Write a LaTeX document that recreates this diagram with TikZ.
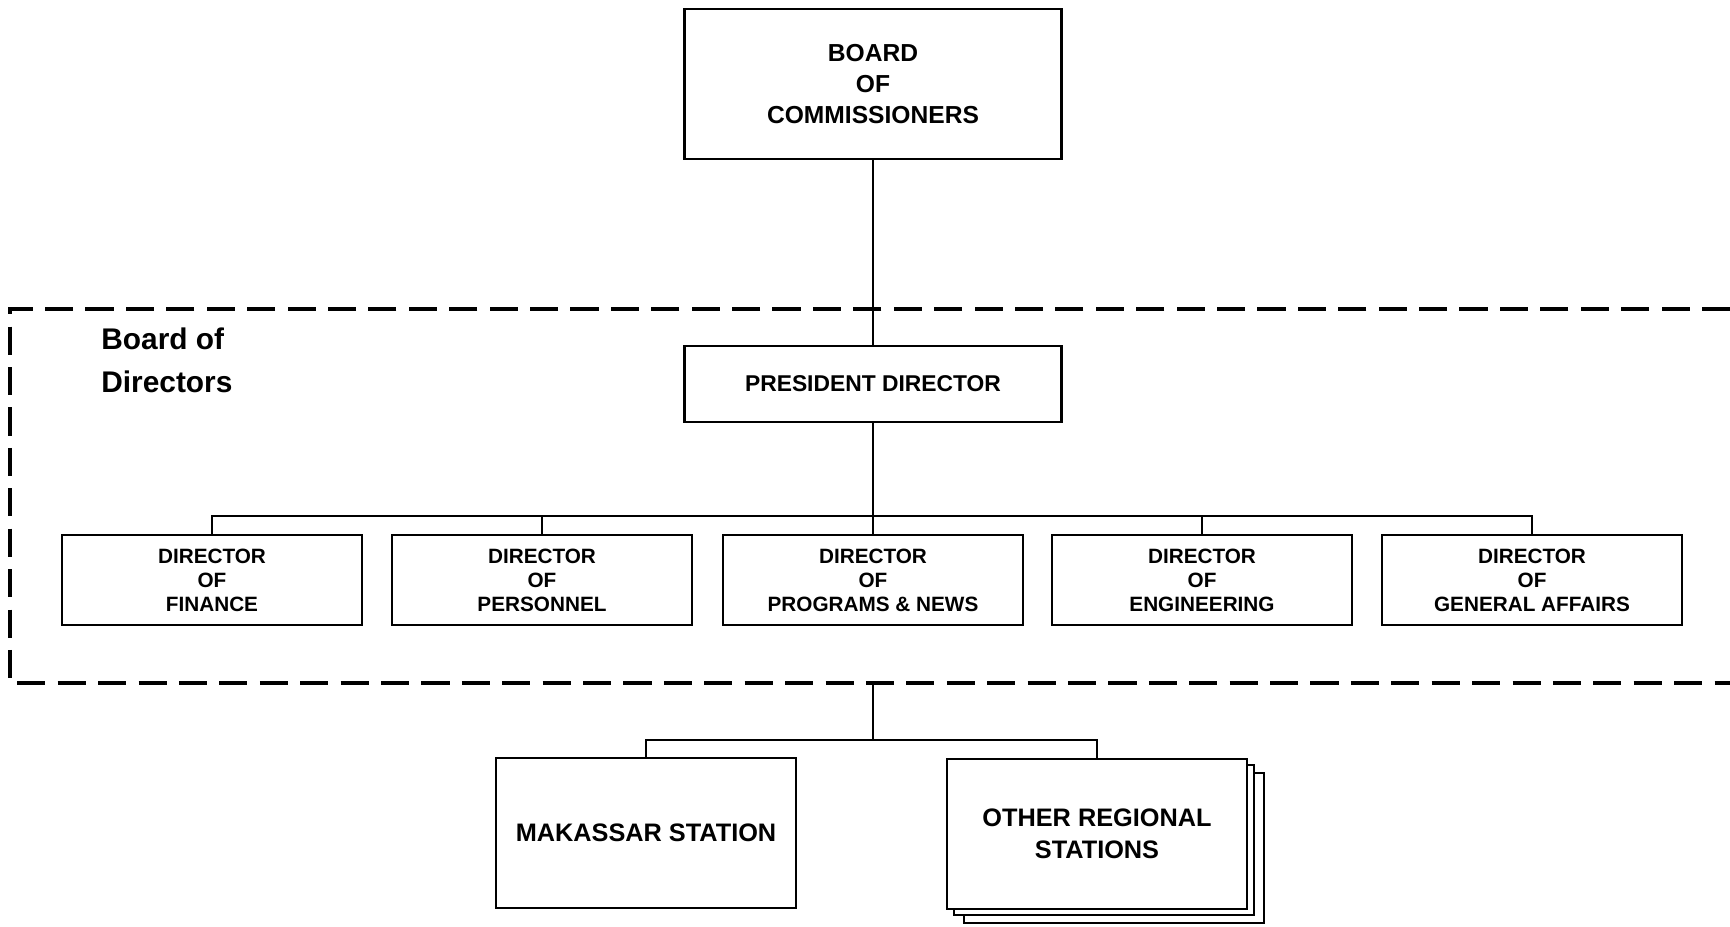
\documentclass[tikz,border=0pt]{standalone}
\usepackage{fontspec}
\setmainfont{Liberation Sans}
\usetikzlibrary{positioning}

\begin{document}
\begin{tikzpicture}[x=0.02cm,y=-0.02cm,
  orgbox/.style={draw,line width=1.2pt,align=center,inner sep=0pt,fill=white},
  topbox/.style={orgbox,minimum width=7.54cm,minimum height=3cm,font=\fontsize{14}{17.6}\selectfont\bfseries},
  presbox/.style={orgbox,minimum width=7.54cm,minimum height=1.52cm,font=\fontsize{13}{16}\selectfont\bfseries},
  dirbox/.style={orgbox,line width=1pt,minimum width=6cm,minimum height=1.8cm,font=\fontsize{11.8}{13.6}\selectfont\bfseries},
  stnbox/.style={orgbox,line width=1.6pt,minimum width=6cm,minimum height=3cm,font=\fontsize{14.4}{18.2}\selectfont\bfseries},
  link/.style={line width=1pt},
  dashbox/.style={line width=2.6pt,dash pattern=on 16pt off 7pt}]

\useasboundingbox[fill=white] (0,0) rectangle (1730,926);

% board of directors frame
\draw[dashbox] (1730,309) -- (10,309) -- (10,683) -- (1730,683);
\node[anchor=west,align=left,inner sep=0pt,font=\fontsize{17}{24.5}\selectfont\bfseries] (bdlabel) at (101,360) {Board of\\Directors};

\node[topbox] (board) at (873,84) {BOARD\\OF\\COMMISSIONERS};
\node[presbox] (pres) at (873,384) {PRESIDENT DIRECTOR};

\node[dirbox] (fin) at (212,580) {DIRECTOR\\OF\\FINANCE};
\node[dirbox] (per) at (542,580) {DIRECTOR\\OF\\PERSONNEL};
\node[dirbox] (prog) at (873,580) {DIRECTOR\\OF\\PROGRAMS \& NEWS};
\node[dirbox] (eng) at (1202,580) {DIRECTOR\\OF\\ENGINEERING};
\node[dirbox] (gen) at (1532,580) {DIRECTOR\\OF\\GENERAL AFFAIRS};

% regional stations
\node[stnbox] (mak) at (646,833) {MAKASSAR STATION};
\foreach \dx/\dy in {17/14,7/6}
  \node[stnbox] (oth\dx) at (1097+\dx,834+\dy) {};
\node[stnbox] (oth) at (1097,834) {OTHER REGIONAL\\STATIONS};

% connectors
\coordinate (bus) at (873,516);
\coordinate (cut) at (873,684);
\coordinate (lowbus) at (873,740);
\draw[link] (board.south) -- (pres.north);
\draw[link] (pres.south) -- (prog.north);
\foreach \d in {fin,per,eng,gen}
  \draw[link] (\d.north) |- (bus);
\draw[link] (cut) -- (lowbus);
\draw[link] (mak.north) |- (lowbus) -| (oth.north);

\end{tikzpicture}
\end{document}
